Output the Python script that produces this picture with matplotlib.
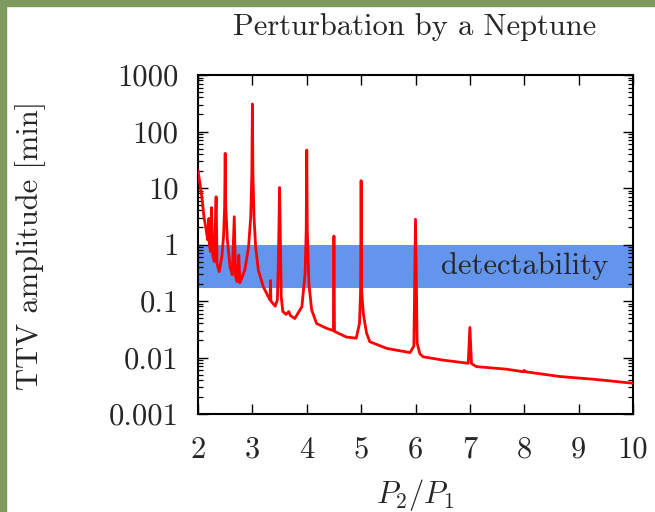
import matplotlib
matplotlib.use('Agg')
import matplotlib.pyplot as plt
from matplotlib.patches import Rectangle
from matplotlib.ticker import LogLocator, NullFormatter

plt.rcParams['font.family'] = 'serif'
plt.rcParams['font.serif'] = ['cmr10']
plt.rcParams['mathtext.fontset'] = 'cm'
plt.rcParams['axes.unicode_minus'] = False

# TTV amplitude vs period ratio
ratio = [2.00, 2.04, 2.07, 2.11, 2.15, 2.18, 2.20, 2.21, 2.23, 2.25, 2.27, 2.30,
         2.333, 2.35, 2.39, 2.44, 2.47, 2.49, 2.50, 2.51, 2.54, 2.59, 2.63, 2.667,
         2.69, 2.72, 2.75, 2.77, 2.86, 2.93, 2.97, 2.99, 3.00, 3.01, 3.03, 3.06,
         3.11, 3.20, 3.29, 3.325, 3.333, 3.34, 3.42, 3.46, 3.48, 3.50, 3.52, 3.53,
         3.56, 3.62, 3.67, 3.70, 3.78, 3.91, 3.97, 3.99, 4.00, 4.01, 4.04, 4.09,
         4.18, 4.36, 4.49, 4.50, 4.51, 4.73, 4.91, 4.97, 4.99, 5.00, 5.01, 5.04,
         5.07, 5.10, 5.16, 5.47, 5.90, 5.97, 6.00, 6.03, 6.08, 6.14, 6.50, 6.97,
         7.00, 7.03, 7.12, 7.68, 7.98, 8.00, 8.02, 8.66, 9.30, 10.0]
ttv = [20, 11.3, 7.0, 3.1, 1.8, 1.2, 2.9, 1.0, 0.75, 4.5, 0.65, 0.5,
       7.0, 0.46, 0.33, 0.62, 1.4, 4.7, 41, 4.7, 1.2, 0.40, 0.29, 3.1,
       0.27, 0.22, 0.65, 0.21, 0.35, 0.91, 3.1, 18, 307, 18, 3.1, 0.91,
       0.35, 0.18, 0.12, 0.105, 0.23, 0.10, 0.081, 0.105, 0.62, 10.2, 0.62, 0.12,
       0.065, 0.058, 0.065, 0.055, 0.049, 0.079, 0.31, 1.8, 47, 1.8, 0.2, 0.07,
       0.040, 0.033, 0.030, 1.41, 0.029, 0.023, 0.022, 0.040, 0.15, 13.5, 0.15, 0.06,
       0.040, 0.027, 0.019, 0.0145, 0.0122, 0.016, 2.8, 0.018, 0.0116, 0.0103, 0.009, 0.0079,
       0.034, 0.0078, 0.0069, 0.0062, 0.0056, 0.0059, 0.0056, 0.0046, 0.0041, 0.0035]

band = [1 / 6.0, 1.0]
xticks = [2, 3, 4, 5, 6, 7, 8, 9, 10]
yticks = [0.001, 0.01, 0.1, 1, 10, 100, 1000]
ytick_labels = ['0.001', '0.01', '0.1', '1', '10', '100', '1000']

W, H = 655, 512
txt = '#262626'
fig = plt.figure(figsize=(W / 100, H / 100), dpi=100)
ax = fig.add_axes([198 / W, (H - 414) / H, 435 / W, 339 / H])

ax.axhspan(band[0], band[1], color='#6495ed', lw=0, zorder=1)
ax.plot(ratio, ttv, color='#ff0000', lw=2.0, zorder=3)
ax.text(9.54, 0.42, 'detectability', ha='right', va='center', fontsize=22, color=txt, zorder=4)

ax.set_yscale('log')
ax.set_xlim(2, 10)
ax.set_ylim(0.001, 1000)
ax.set_xticks(xticks)
ax.set_xticklabels([str(t) for t in xticks])
ax.set_yticks(yticks)
ax.set_yticklabels(ytick_labels)
ax.yaxis.set_minor_locator(LogLocator(base=10, subs=range(2, 10), numticks=20))
ax.yaxis.set_minor_formatter(NullFormatter())
ax.tick_params(which='both', direction='in', top=True, right=True, colors='black', labelcolor=txt)
ax.tick_params(which='major', length=7, width=1.0, labelsize=22, pad=14)
ax.tick_params(axis='x', which='major', pad=16)
ax.tick_params(which='minor', length=3.5, width=0.9)
for s in ax.spines.values():
    s.set_linewidth(1.5)

fig.text(415 / W, 1 - 27 / H, 'Perturbation by a Neptune', ha='center', va='center', fontsize=22, color=txt)
fig.text(31 / W, 1 - 245 / H, 'TTV amplitude [min]', ha='center', va='center', rotation=90, fontsize=22, color=txt)
fig.text(415 / W, 1 - 495 / H, r'$P_2/P_1$', ha='center', va='center', fontsize=22, color=txt)

# green frame at left and top edge
fig.patches.append(Rectangle((0, 0), 6 / W, 1, transform=fig.transFigure, color='#7f9a5f', zorder=10))
fig.patches.append(Rectangle((0, 1 - 6 / H), 1, 6 / H, transform=fig.transFigure, color='#7f9a5f', zorder=10))

fig.savefig('out.png', dpi=100)
